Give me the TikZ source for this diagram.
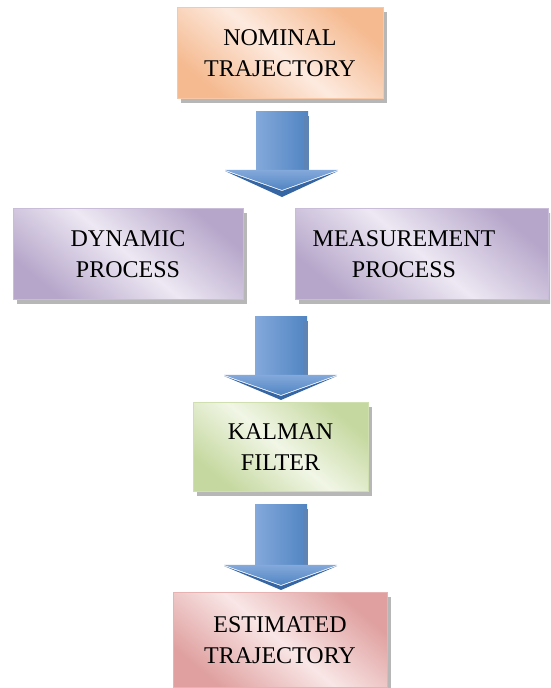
\documentclass[tikz,border=0pt]{standalone}
\usepackage{fontspec}
\setmainfont{Liberation Serif}
\usetikzlibrary{shadows}
\definecolor{nomD}{HTML}{F5BA90}
\definecolor{nomL}{HTML}{FDEADF}
\definecolor{nomB}{HTML}{F8C8A6}
\definecolor{purD}{HTML}{B6A6CA}
\definecolor{purL}{HTML}{EDE8F3}
\definecolor{purB}{HTML}{C8BCD8}
\definecolor{grnD}{HTML}{C5D89F}
\definecolor{grnL}{HTML}{F1F6E6}
\definecolor{grnB}{HTML}{D0DFB0}
\definecolor{redD}{HTML}{DFA09F}
\definecolor{redL}{HTML}{F9E6E6}
\definecolor{redB}{HTML}{E6B3B2}
\definecolor{arrL}{HTML}{84A9DB}
\definecolor{arrR}{HTML}{5084C2}
\definecolor{arrD}{HTML}{3565A3}
\newcommand\blkarrow[4]{%
  \shade[left color=arrL, right color=arrR] (#1-26,#2) rectangle (#1+26,#3);
  \fill[arrD!80] (#1+22,#2-4) rectangle (#1+27,#3);
  \fill[arrD] (#1-57,#3-1) -- (#1,#3-21) -- (#1+56,#3-1) -- (#1,#4) -- cycle;
  \shade[top color=arrL, bottom color=arrR] (#1-57,#3) -- (#1+56,#3) -- (#1,#3-20) -- cycle;
}
\tikzset{
  box/.style={draw=#1B, line width=1pt, minimum height=91pt, inner sep=0pt, align=center,
    top color=#1D, bottom color=#1D, middle color=#1L, shading angle=-40,
    drop shadow={shadow xshift=4pt, shadow yshift=-4pt, fill=black!35, opacity=0.8}},
  boxtext/.style={align=center, inner sep=0pt, font=\fontsize{24}{31}\selectfont},
}
\begin{document}
\begin{tikzpicture}[x=1pt,y=1pt]
\clip (0,0) rectangle (550,688);
\fill[white] (0,0) rectangle (550,688);
\node[box=nom, boxtext, minimum width=206pt] (nom) at (280,634.5) {NOMINAL\\TRAJECTORY};
\node[box=pur, boxtext, minimum width=230pt] (dyn) at (128,433.5) {DYNAMIC\\PROCESS};
\node[box=pur, minimum width=253pt] (meas) at (421.5,433.5) {};
\node[boxtext] (meastext) at (404,433.5) {MEASUREMENT\\PROCESS};
\node[box=grn, boxtext, minimum width=175pt, minimum height=89pt] (kal) at (280.5,240.5) {KALMAN\\FILTER};
\node[box=red, boxtext, minimum width=214pt, minimum height=95pt] (est) at (280,47.5) {ESTIMATED\\TRAJECTORY};
\blkarrow{282}{576}{518}{491}
\blkarrow{281}{371}{313}{288}
\blkarrow{281}{183}{123}{98}
\end{tikzpicture}
\end{document}
